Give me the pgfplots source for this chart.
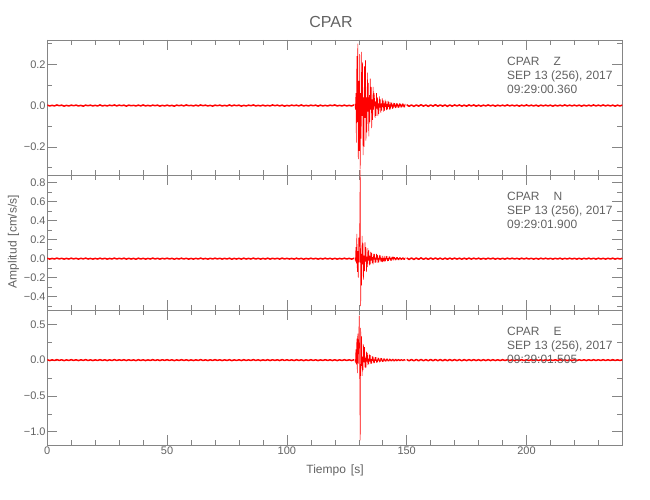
\documentclass[border=0pt]{standalone}
\usepackage{fontspec}
\setmainfont{Liberation Sans}
\usepackage{pgfplots}
\pgfplotsset{compat=1.18}
\usepackage{pgfplotstable}
\definecolor{txt}{HTML}{626262}
\definecolor{axc}{HTML}{858585}

% ---------- Z component ----------
\pgfplotstableread[header=false,row sep=\\]{
0.002\\ -0.002\\ 0.001\\ -0.002\\ 0.003\\ -0.001\\ 0.002\\ -0.003\\ 0.001\\ -0.002\\
0.002\\ -0.001\\ 0.002\\ -0.002\\ 0.001\\ -0.003\\ 0.002\\ -0.001\\ 0.002\\ -0.002\\
0.001\\ -0.002\\ 0.003\\ -0.002\\ 0.001\\ -0.002\\ 0.002\\ -0.001\\ 0.003\\ -0.002\\
0.002\\ -0.001\\ 0.002\\ -0.003\\ 0.002\\ -0.001\\ 0.001\\ -0.002\\ 0.002\\ -0.002\\
0.003\\ -0.002\\ 0.001\\ -0.002\\ 0.002\\ -0.001\\ 0.002\\ -0.003\\ 0.001\\ -0.002\\
0.002\\ -0.002\\ 0.001\\ -0.003\\ 0.002\\ -0.001\\ 0.002\\ -0.002\\ 0.003\\ -0.001\\
0.001\\ -0.002\\ 0.002\\ -0.002\\ 0.003\\ -0.001\\ 0.002\\ -0.002\\ 0.001\\ -0.003\\
0.002\\ -0.001\\ 0.002\\ -0.002\\ 0.001\\ -0.002\\ 0.003\\ -0.002\\ 0.002\\ -0.001\\
0.002\\ -0.003\\ 0.001\\ -0.002\\ 0.002\\ -0.001\\ 0.003\\ -0.002\\ 0.001\\ -0.002\\
0.002\\ -0.002\\ 0.001\\ -0.002\\ 0.003\\ -0.001\\ 0.002\\ -0.002\\ 0.002\\ -0.003\\
0.001\\ -0.002\\ 0.002\\ -0.001\\ 0.002\\ -0.002\\ 0.003\\ -0.002\\ 0.001\\ -0.002\\
0.002\\ -0.001\\ 0.002\\ -0.003\\ 0.002\\ -0.002\\ 0.001\\ -0.002\\ 0.002\\ -0.001\\
0.003\\ -0.002\\ 0.001\\ -0.002\\ 0.002\\ -0.002\\ 0.001\\ -0.002\\ 0.003\\
}\zpre
\pgfplotstableread[header=false,row sep=\\]{
0.008\\ -0.02\\ 0.06\\ -0.18\\ 0.24\\ -0.08\\ 0.30\\ -0.26\\ 0.12\\ -0.22\\
0.25\\ -0.31\\ 0.06\\ -0.16\\ 0.26\\ -0.05\\ 0.21\\ -0.24\\ 0.04\\ -0.20\\
0.19\\ -0.06\\ 0.22\\ -0.17\\ 0.04\\ -0.13\\ 0.16\\ -0.03\\ 0.11\\ -0.15\\
0.05\\ -0.08\\ 0.13\\ -0.02\\ 0.09\\ -0.11\\ 0.03\\ -0.07\\ 0.09\\ -0.02\\
0.06\\
0.03\\ -0.06\\ 0.02\\ -0.05\\ 0.06\\ -0.015\\ 0.04\\ -0.05\\ 0.01\\ -0.04\\
0.045\\ -0.01\\ 0.03\\ -0.035\\ 0.01\\ -0.025\\ 0.035\\ -0.008\\ 0.025\\ -0.03\\
0.01\\ -0.025\\ 0.028\\ -0.006\\ 0.02\\ -0.022\\ 0.008\\ -0.018\\ 0.022\\ -0.006\\
0.018\\ -0.02\\ 0.006\\ -0.018\\ 0.017\\ -0.005\\ 0.014\\ -0.016\\ 0.005\\ -0.013\\
0.013\\ -0.005\\ 0.012\\ -0.013\\ 0.004\\ -0.011\\ 0.012\\ -0.004\\ 0.01\\ -0.011\\
0.004\\ -0.01\\ 0.01\\ -0.004\\ 0.009\\ -0.01\\ 0.004\\ -0.009\\ 0.01\\ -0.004\\
0.009\\ -0.009\\ 0.004\\ -0.009\\ 0.008\\
}\zburst
\pgfplotstableread[header=false,row sep=\\]{
0.004\\ -0.004\\ 0.003\\ -0.004\\ 0.003\\ -0.003\\ 0.004\\ -0.003\\ 0.003\\ -0.004\\
0.003\\ -0.003\\ 0.004\\ -0.003\\ 0.003\\ -0.003\\ 0.003\\ -0.004\\ 0.003\\ -0.003\\
0.003\\ -0.002\\ 0.003\\ -0.003\\ 0.002\\ -0.003\\ 0.003\\ -0.002\\ 0.003\\ -0.003\\
0.002\\ -0.003\\ 0.002\\ -0.002\\ 0.003\\ -0.002\\ 0.002\\ -0.003\\ 0.002\\ -0.002\\
0.002\\ -0.002\\ 0.003\\ -0.002\\ 0.002\\ -0.002\\ 0.002\\ -0.003\\ 0.002\\ -0.002\\
0.003\\ -0.002\\ 0.002\\ -0.002\\ 0.002\\ -0.003\\ 0.002\\ -0.002\\ 0.002\\ -0.002\\
0.002\\ -0.003\\ 0.002\\ -0.002\\ 0.002\\ -0.002\\ 0.003\\ -0.002\\ 0.002\\ -0.002\\
0.002\\ -0.002\\ 0.002\\ -0.003\\ 0.002\\ -0.002\\ 0.002\\ -0.002\\ 0.003\\ -0.002\\
0.002\\ -0.002\\ 0.003\\ -0.002\\ 0.002\\ -0.002\\ 0.002\\ -0.003\\ 0.002\\ -0.002\\
0.002\\
}\zcoda

% ---------- N component ----------
\pgfplotstableread[header=false,row sep=\\]{
0.004\\ -0.005\\ 0.003\\ -0.004\\ 0.006\\ -0.003\\ 0.004\\ -0.005\\ 0.003\\ -0.004\\
0.005\\ -0.003\\ 0.004\\ -0.005\\ 0.004\\ -0.003\\ 0.006\\ -0.004\\ 0.003\\ -0.005\\
0.003\\ -0.004\\ 0.005\\ -0.004\\ 0.004\\ -0.005\\ 0.003\\ -0.004\\ 0.006\\ -0.004\\
0.004\\ -0.003\\ 0.005\\ -0.005\\ 0.004\\ -0.004\\ 0.003\\ -0.006\\ 0.005\\ -0.004\\
0.004\\ -0.005\\ 0.003\\ -0.004\\ 0.006\\ -0.004\\ 0.004\\ -0.005\\ 0.004\\ -0.003\\
0.005\\ -0.004\\ 0.004\\ -0.006\\ 0.003\\ -0.004\\ 0.005\\ -0.004\\ 0.004\\ -0.005\\
0.003\\ -0.005\\ 0.004\\ -0.004\\ 0.006\\ -0.004\\ 0.003\\ -0.005\\ 0.004\\ -0.004\\
0.005\\ -0.003\\ 0.004\\ -0.005\\ 0.004\\ -0.004\\ 0.005\\ -0.006\\ 0.003\\ -0.004\\
0.004\\ -0.005\\ 0.005\\ -0.004\\ 0.003\\ -0.004\\ 0.006\\ -0.004\\ 0.004\\ -0.005\\
0.003\\ -0.004\\ 0.005\\ -0.005\\ 0.004\\ -0.003\\ 0.004\\ -0.005\\ 0.006\\ -0.004\\
0.004\\ -0.004\\ 0.003\\ -0.005\\ 0.005\\ -0.004\\ 0.004\\ -0.006\\ 0.003\\ -0.004\\
0.005\\ -0.004\\ 0.004\\ -0.005\\ 0.003\\ -0.004\\ 0.005\\ -0.004\\ 0.004\\ -0.005\\
0.004\\ -0.005\\ 0.003\\ -0.004\\ 0.005\\ -0.004\\ 0.004\\ -0.005\\ 0.004\\
}\npre
\pgfplotstableread[header=false,row sep=\\]{
0.01\\ -0.03\\ 0.12\\ -0.05\\ 0.26\\ -0.14\\ 0.08\\ -0.20\\ 0.22\\ -0.04\\
0.30\\ 0.93\\ -0.50\\ 0.05\\ -0.28\\ 0.24\\ -0.06\\ 0.16\\ -0.22\\ 0.03\\
-0.13\\ 0.17\\ -0.03\\ 0.12\\ -0.14\\ 0.02\\ -0.09\\ 0.11\\ -0.02\\ 0.09\\
-0.07\\
0.03\\ -0.06\\ 0.07\\ -0.02\\ 0.06\\ -0.05\\ 0.015\\ -0.06\\ 0.05\\ -0.01\\
0.05\\ -0.045\\ 0.01\\ -0.04\\ 0.05\\ -0.01\\ 0.04\\ -0.045\\ 0.008\\ -0.04\\
0.04\\ -0.01\\ 0.035\\ -0.03\\ 0.008\\ -0.03\\ 0.03\\ -0.035\\ 0.006\\ -0.025\\
0.03\\ -0.03\\ 0.006\\ -0.028\\ 0.028\\ -0.006\\ 0.025\\ -0.025\\ 0.005\\ -0.024\\
0.022\\ -0.006\\ 0.024\\ -0.02\\ 0.005\\ -0.022\\ 0.018\\ -0.006\\ 0.02\\ -0.018\\
0.018\\ -0.005\\ 0.016\\ -0.018\\ 0.005\\ -0.015\\ 0.016\\ -0.005\\ 0.015\\ -0.015\\
0.005\\ -0.014\\ 0.014\\ -0.005\\ 0.013\\ -0.014\\ 0.005\\ -0.013\\ 0.013\\ -0.005\\
0.012\\ -0.013\\ 0.005\\ -0.012\\ 0.012\\
}\nburst
\pgfplotstableread[header=false,row sep=\\]{
0.008\\ -0.008\\ 0.007\\ -0.008\\ 0.007\\ -0.007\\ 0.008\\ -0.007\\ 0.006\\ -0.007\\
0.007\\ -0.006\\ 0.007\\ -0.006\\ 0.006\\ -0.007\\ 0.006\\ -0.006\\ 0.006\\ -0.005\\
0.006\\ -0.005\\ 0.005\\ -0.006\\ 0.005\\ -0.005\\ 0.006\\ -0.005\\ 0.005\\ -0.004\\
0.005\\ -0.005\\ 0.004\\ -0.005\\ 0.005\\ -0.004\\ 0.005\\ -0.005\\ 0.004\\ -0.005\\
0.004\\ -0.005\\ 0.005\\ -0.004\\ 0.005\\ -0.004\\ 0.004\\ -0.005\\ 0.005\\ -0.004\\
0.005\\ -0.004\\ 0.004\\ -0.005\\ 0.004\\ -0.005\\ 0.005\\ -0.004\\ 0.005\\ -0.004\\
0.004\\ -0.005\\ 0.004\\ -0.004\\ 0.005\\ -0.005\\ 0.004\\ -0.004\\ 0.005\\ -0.004\\
0.004\\ -0.005\\ 0.004\\ -0.005\\ 0.004\\ -0.004\\ 0.005\\ -0.004\\ 0.004\\ -0.005\\
0.005\\ -0.004\\ 0.004\\ -0.005\\ 0.004\\ -0.004\\ 0.005\\ -0.005\\ 0.004\\ -0.004\\
0.004\\
}\ncoda

% ---------- E component ----------
\pgfplotstableread[header=false,row sep=\\]{
0.005\\ -0.006\\ 0.004\\ -0.005\\ 0.007\\ -0.004\\ 0.005\\ -0.007\\ 0.004\\ -0.005\\
0.006\\ -0.004\\ 0.005\\ -0.006\\ 0.005\\ -0.004\\ 0.007\\ -0.005\\ 0.004\\ -0.006\\
0.004\\ -0.005\\ 0.006\\ -0.005\\ 0.005\\ -0.006\\ 0.004\\ -0.005\\ 0.007\\ -0.005\\
0.005\\ -0.004\\ 0.006\\ -0.006\\ 0.005\\ -0.005\\ 0.004\\ -0.007\\ 0.006\\ -0.005\\
0.005\\ -0.006\\ 0.004\\ -0.005\\ 0.007\\ -0.005\\ 0.005\\ -0.006\\ 0.005\\ -0.004\\
0.006\\ -0.005\\ 0.005\\ -0.007\\ 0.004\\ -0.005\\ 0.006\\ -0.005\\ 0.005\\ -0.006\\
0.004\\ -0.006\\ 0.005\\ -0.005\\ 0.007\\ -0.005\\ 0.004\\ -0.006\\ 0.005\\ -0.005\\
0.006\\ -0.004\\ 0.005\\ -0.006\\ 0.005\\ -0.005\\ 0.006\\ -0.007\\ 0.004\\ -0.005\\
0.005\\ -0.006\\ 0.006\\ -0.005\\ 0.004\\ -0.005\\ 0.007\\ -0.005\\ 0.005\\ -0.006\\
0.004\\ -0.005\\ 0.006\\ -0.006\\ 0.005\\ -0.004\\ 0.005\\ -0.006\\ 0.007\\ -0.005\\
0.005\\ -0.005\\ 0.004\\ -0.006\\ 0.006\\ -0.005\\ 0.005\\ -0.007\\ 0.004\\ -0.005\\
0.006\\ -0.005\\ 0.005\\ -0.006\\ 0.004\\ -0.005\\ 0.006\\ -0.005\\ 0.005\\ -0.006\\
0.005\\ -0.006\\ 0.004\\ -0.005\\ 0.006\\ -0.005\\ 0.005\\ -0.006\\ 0.005\\
}\epre
\pgfplotstableread[header=false,row sep=\\]{
0.01\\ -0.04\\ 0.15\\ -0.06\\ 0.30\\ -0.18\\ 0.37\\ -0.05\\ 0.28\\ 0.62\\
-0.15\\ -1.12\\ 0.45\\ -0.08\\ 0.33\\ -0.22\\ 0.05\\ -0.14\\ 0.22\\ -0.03\\
0.18\\ -0.10\\ 0.03\\ -0.11\\ 0.12\\ -0.02\\ 0.10\\ -0.07\\ 0.02\\ -0.06\\
0.08\\
-0.02\\ 0.07\\ -0.05\\ 0.015\\ -0.05\\ 0.055\\ -0.01\\ 0.05\\ -0.04\\ 0.01\\
-0.04\\ 0.04\\ -0.01\\ 0.04\\ -0.035\\ 0.008\\ -0.03\\ 0.035\\ -0.008\\ 0.03\\
-0.03\\ 0.008\\ -0.025\\ 0.03\\ -0.006\\ 0.028\\ -0.024\\ 0.006\\ -0.022\\ 0.025\\
-0.006\\ 0.022\\ -0.02\\ 0.006\\ -0.02\\ 0.02\\ -0.006\\ 0.021\\ -0.018\\ 0.006\\
-0.018\\ 0.019\\ -0.006\\ 0.018\\ -0.017\\ 0.005\\ -0.016\\ 0.017\\ -0.005\\ 0.016\\
-0.016\\ 0.005\\ -0.015\\ 0.016\\ -0.005\\ 0.015\\ -0.015\\ 0.005\\ -0.014\\ 0.015\\
-0.005\\ 0.014\\ -0.014\\ 0.005\\ -0.013\\ 0.014\\ -0.005\\ 0.013\\ -0.013\\ 0.005\\
-0.013\\ 0.013\\ -0.005\\ 0.013\\ -0.012\\
}\eburst
\pgfplotstableread[header=false,row sep=\\]{
0.010\\ -0.010\\ 0.009\\ -0.010\\ 0.009\\ -0.009\\ 0.010\\ -0.009\\ 0.008\\ -0.009\\
0.009\\ -0.008\\ 0.009\\ -0.008\\ 0.008\\ -0.009\\ 0.008\\ -0.008\\ 0.008\\ -0.007\\
0.008\\ -0.007\\ 0.007\\ -0.008\\ 0.007\\ -0.007\\ 0.007\\ -0.006\\ 0.007\\ -0.006\\
0.006\\ -0.007\\ 0.006\\ -0.006\\ 0.007\\ -0.006\\ 0.006\\ -0.006\\ 0.005\\ -0.006\\
0.006\\ -0.005\\ 0.006\\ -0.006\\ 0.005\\ -0.006\\ 0.006\\ -0.005\\ 0.006\\ -0.005\\
0.005\\ -0.006\\ 0.005\\ -0.005\\ 0.006\\ -0.005\\ 0.005\\ -0.006\\ 0.005\\ -0.005\\
0.006\\ -0.005\\ 0.005\\ -0.005\\ 0.006\\ -0.005\\ 0.005\\ -0.006\\ 0.005\\ -0.005\\
0.005\\ -0.006\\ 0.005\\ -0.005\\ 0.005\\ -0.006\\ 0.005\\ -0.005\\ 0.006\\ -0.005\\
0.005\\ -0.005\\ 0.006\\ -0.005\\ 0.005\\ -0.005\\ 0.006\\ -0.005\\ 0.005\\ -0.005\\
0.005\\
}\ecoda

\begin{document}
\begin{tikzpicture}
\path[use as bounding box] (0pt,0pt) rectangle (650pt,500pt);
\pgfplotsset{
  panel/.style={
    scale only axis, width=575pt, height=135pt, anchor=south west,
    xmin=0, xmax=240, xtick={0,50,100,150,200}, minor xtick={0,10,...,240},
    tick align=inside, major tick length=10pt, minor tick length=5pt,
    axis line style={draw=axc, line width=0.6pt},
    tick style={draw=axc, line width=0.5pt},
    tick label style={font=\fontsize{11}{13}\selectfont, text=txt},
    yticklabel style={inner sep=1.5pt},
    xticklabel style={inner sep=2pt},
  },
  trace/.style={color=red, line width=0.55pt, line join=bevel, no markers},
  noise/.style={color=red, line width=1.5pt, line join=bevel, no markers},
}
% Z
\begin{axis}[panel, at={(47.3pt,325pt)}, ymin=-0.337, ymax=0.318,
  ytick={-0.2,0,0.2}, yticklabels={−0.2,0.0,0.2}, minor ytick={-0.3,-0.1,0.1,0.3},
  xticklabels={}]
\addplot[noise] table[x expr=\coordindex, y index=0]{\zpre};
\addplot[trace] table[x expr=128.4+0.2*\coordindex, y index=0]{\zburst};
\addplot[noise] table[x expr=150+\coordindex, y index=0]{\zcoda};
\end{axis}
% N
\begin{axis}[panel, at={(47.3pt,190pt)}, ymin=-0.54, ymax=0.88, clip=false,
  ytick={-0.4,-0.2,0,0.2,0.4,0.6,0.8}, yticklabels={−0.4,−0.2,0.0,0.2,0.4,0.6,0.8},
  minor ytick={-0.5,-0.3,-0.1,0.1,0.3,0.5,0.7},
  xticklabels={}]
\addplot[noise] table[x expr=\coordindex, y index=0]{\npre};
\addplot[trace] table[x expr=128.4+0.2*\coordindex, y index=0]{\nburst};
\addplot[noise] table[x expr=150+\coordindex, y index=0]{\ncoda};
\end{axis}
% E
\begin{axis}[panel, at={(47.3pt,55pt)}, ymin=-1.185, ymax=0.70,
  ytick={-1,-0.5,0,0.5}, yticklabels={−1.0,−0.5,0.0,0.5},
  minor ytick={-0.75,-0.25,0.25},
  xticklabels={0,50,100,150,200}]
\addplot[noise] table[x expr=\coordindex, y index=0]{\epre};
\addplot[trace] table[x expr=128.4+0.2*\coordindex, y index=0]{\eburst};
\addplot[noise] table[x expr=150+\coordindex, y index=0]{\ecoda};
\end{axis}

\begin{scope}[every node/.style={text=txt, font=\fontsize{12}{14}\selectfont, inner sep=0pt}]
\node[font=\fontsize{16}{18}\selectfont] at (331pt,478pt) {CPAR};
\node at (335pt,30pt) {Tiempo\hspace{5pt}[s]};
\node[rotate=90] at (13.5pt,258.5pt) {Amplitud\hspace{5pt}[cm/s/s]};
\node[anchor=base west] at (507pt,434pt) {CPAR\hspace{14pt}Z};
\node[anchor=base west] at (507pt,420pt) {SEP 13 (256), 2017};
\node[anchor=base west] at (507pt,406pt) {09:29:00.360};
\node[anchor=base west] at (507pt,299pt) {CPAR\hspace{14pt}N};
\node[anchor=base west] at (507pt,285pt) {SEP 13 (256), 2017};
\node[anchor=base west] at (507pt,271pt) {09:29:01.900};
\node[anchor=base west] at (507pt,164pt) {CPAR\hspace{14pt}E};
\node[anchor=base west] at (507pt,150pt) {SEP 13 (256), 2017};
\node[anchor=base west] at (507pt,136pt) {09:29:01.505};
\end{scope}
\end{tikzpicture}
\end{document}
